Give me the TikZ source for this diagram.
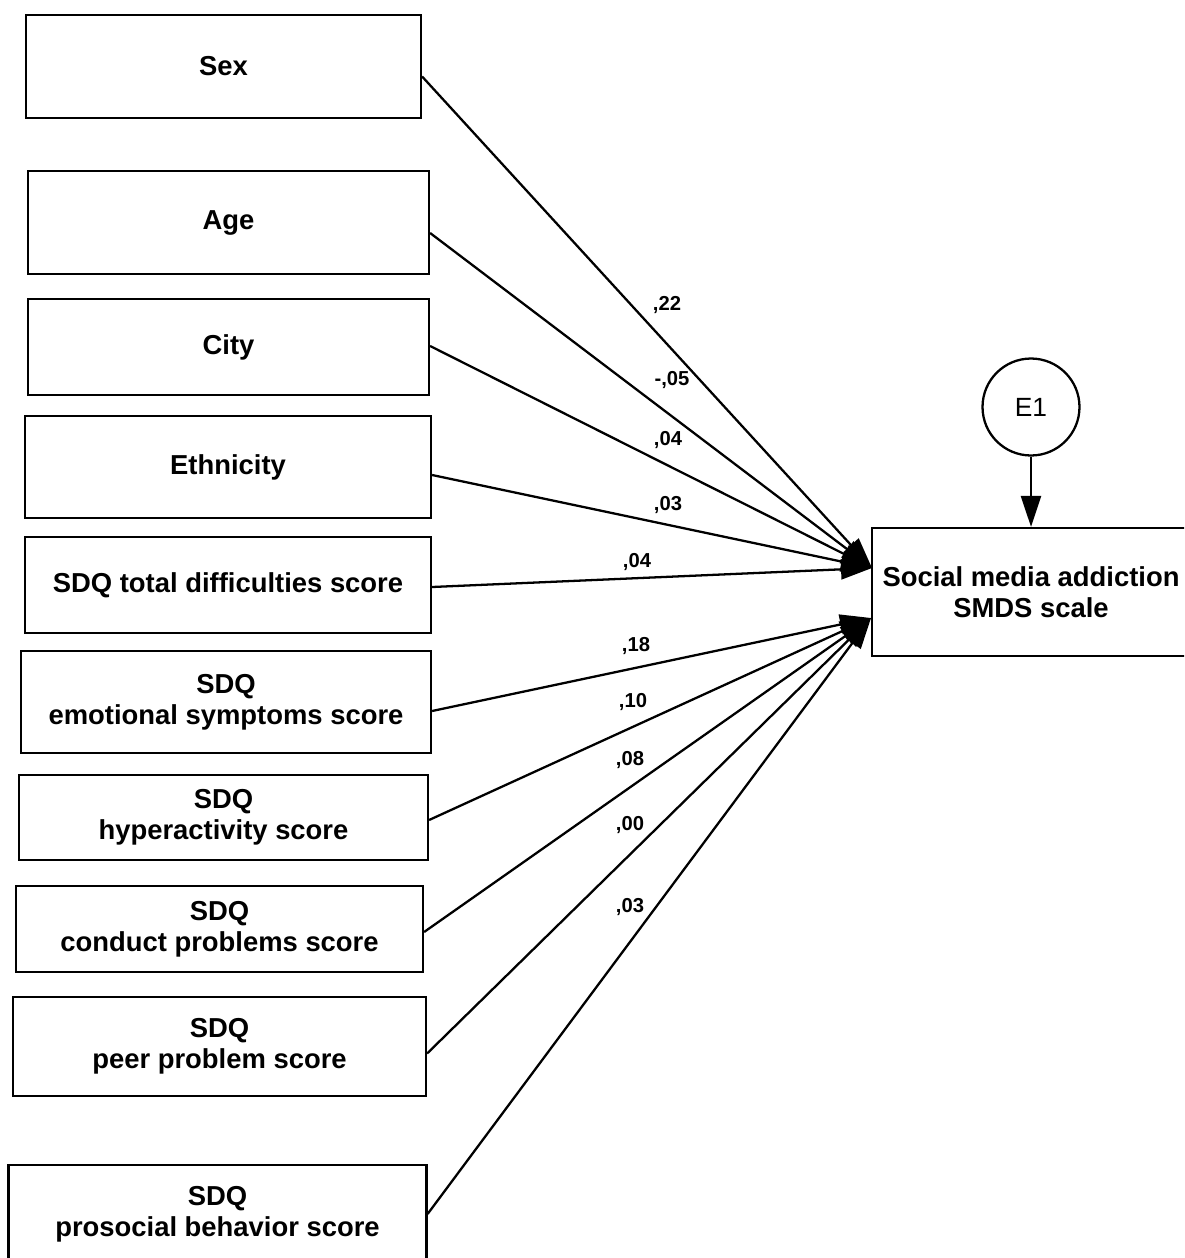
\documentclass[tikz,border=0pt]{standalone}
\usepackage{fontspec}
\setmainfont{Liberation Sans}
\usetikzlibrary{arrows.meta}

\begin{document}
\begin{tikzpicture}[x=0.02cm, y=-0.02cm,
  var/.style={draw, line width=1.3pt, inner sep=0pt, align=center,
    font=\bfseries\fontsize{15.6}{17.6}\selectfont},
  err/.style={draw, circle, line width=1.3pt, inner sep=0pt,
    minimum size=1.94cm, font=\fontsize{15}{17}\selectfont},
  coef/.style={inner sep=0pt, font=\bfseries\fontsize{11.5}{13}\selectfont},
  eff/.style={line width=1.3pt, -{Triangle[length=0.62cm, width=0.4cm]}}]

\useasboundingbox (0,0) rectangle (1184,1258);
\clip (0,0) rectangle (1184,1258);

% predictors
\node[var, minimum width=7.9cm,  minimum height=2.06cm] (sex)   at (223.5,66.5)  {Sex};
\node[var, minimum width=8.02cm, minimum height=2.06cm] (age)   at (228.5,222.5) {Age};
\node[var, minimum width=8.02cm, minimum height=1.92cm] (city)  at (228.5,347)   {City};
\node[var, minimum width=8.12cm, minimum height=2.04cm] (ethn)  at (228,467)     {Ethnicity};
\node[var, minimum width=8.12cm, minimum height=1.92cm] (total) at (228,585)     {SDQ total difficulties score};
\node[var, minimum width=8.2cm,  minimum height=2.04cm] (emo)   at (226,702)     {SDQ\\emotional symptoms score};
\node[var, minimum width=8.18cm, minimum height=1.7cm]  (hyper) at (223.5,817.5) {SDQ\\hyperactivity score};
\node[var, minimum width=8.14cm, minimum height=1.72cm] (cond)  at (219.5,929)   {SDQ\\conduct problems score};
\node[var, minimum width=8.26cm, minimum height=1.98cm] (peer)  at (219.5,1046.5) {SDQ\\peer problem score};
\node[var, minimum width=8.36cm, minimum height=1.96cm] (pros)  at (217.5,1214)  {SDQ\\prosocial behavior score};

% outcome and error term
\node[var, minimum width=6.36cm, minimum height=2.56cm] (smds) at (1031,592) {Social media addiction\\SMDS scale};
\node[err] (eone) at (1031,407) {E1};

\coordinate (inA) at (872,568);
\coordinate (inB) at (871,618);

\draw[eff] ([yshift=-0.2cm]sex.east)    -- (inA);
\draw[eff] ([yshift=-0.21cm]age.east)   -- (inA);
\draw[eff] ([yshift=0.02cm]city.east)   -- (inA);
\draw[eff] ([yshift=-0.16cm]ethn.east)  -- (inA);
\draw[eff] ([yshift=-0.04cm]total.east) -- (inA);
\draw[eff] ([yshift=-0.18cm]emo.east)   -- (inB);
\draw[eff] ([yshift=-0.05cm]hyper.east) -- (inB);
\draw[eff] ([yshift=-0.06cm]cond.east)  -- (inB);
\draw[eff] ([yshift=-0.14cm]peer.east)  -- (inB);
\draw[eff] (pros.east)                  -- (inB);
\draw[eff] (eone.south) -- (smds.north);

% path coefficients
\node[coef] (c1)  at (667,305) {,22};
\node[coef] (c2)  at (672,380) {-,05};
\node[coef] (c3)  at (668,440) {,04};
\node[coef] (c4)  at (668,505) {,03};
\node[coef] (c5)  at (637,562) {,04};
\node[coef] (c6)  at (636,646) {,18};
\node[coef] (c7)  at (633,702) {,10};
\node[coef] (c8)  at (630,760) {,08};
\node[coef] (c9)  at (630,825) {,00};
\node[coef] (c10) at (630,907) {,03};

\end{tikzpicture}
\end{document}
